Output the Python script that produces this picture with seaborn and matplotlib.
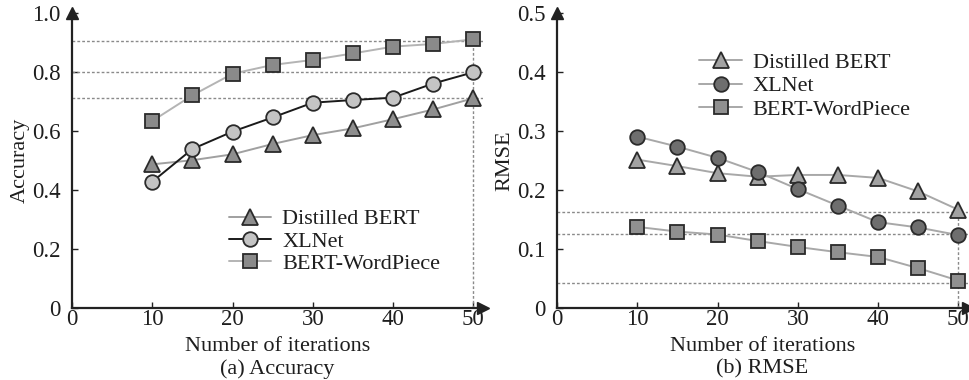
import numpy as np
import pandas as pd
import matplotlib
matplotlib.use("Agg")
import matplotlib.pyplot as plt
import seaborn as sns

iterations = [10, 15, 20, 25, 30, 35, 40, 45, 50]

acc_distilled = [0.486, 0.500, 0.520, 0.555, 0.585, 0.608, 0.639, 0.672, 0.710]
acc_xlnet = [0.427, 0.538, 0.597, 0.645, 0.695, 0.704, 0.712, 0.760, 0.798]
acc_wordpiece = [0.633, 0.720, 0.793, 0.823, 0.840, 0.862, 0.885, 0.894, 0.910]

rmse_distilled = [0.251, 0.240, 0.228, 0.222, 0.225, 0.225, 0.220, 0.197, 0.166]
rmse_xlnet = [0.290, 0.273, 0.254, 0.230, 0.201, 0.173, 0.145, 0.136, 0.123]
rmse_wordpiece = [0.137, 0.129, 0.124, 0.113, 0.103, 0.094, 0.086, 0.067, 0.046]

acc_ref = [0.905, 0.800, 0.712]
rmse_ref = [0.163, 0.125, 0.042]

series_names = ["Distilled BERT", "XLNet", "BERT-WordPiece"]
acc_ticks = [0, 0.2, 0.4, 0.6, 0.8, 1.0]
acc_ticklabels = ["0", "0.2", "0.4", "0.6", "0.8", "1.0"]
rmse_ticks = [0, 0.1, 0.2, 0.3, 0.4, 0.5]
rmse_ticklabels = ["0", "0.1", "0.2", "0.3", "0.4", "0.5"]
x_ticks = [0, 10, 20, 30, 40, 50]

sns.set_theme(style="white")
plt.rcParams["font.family"] = ["Liberation Serif", "DejaVu Serif"]

fig = plt.figure(figsize=(9.7, 3.8), dpi=100)
W, H = 970, 380
ax1 = fig.add_axes([72 / W, 1 - 307.7 / H, 411 / W, 295 / H])
ax2 = fig.add_axes([557 / W, 1 - 307.7 / H, 411 / W, 295 / H])

FS = 16
TFS = 16.5
txtc = "#1e1e1e"


def style_axis(ax, ylim, yticks, yticklabels, ylabel, caption):
    ax.set_xlim(0, 51.2)
    ax.set_ylim(*ylim)
    ax.set_xticks(x_ticks)
    ax.set_xticklabels([str(t) for t in x_ticks])
    ax.set_yticks(yticks)
    ax.set_yticklabels(yticklabels)
    for s in ["top", "right"]:
        ax.spines[s].set_visible(False)
    for s in ["left", "bottom"]:
        ax.spines[s].set_color("#222222")
        ax.spines[s].set_linewidth(1.6)
    ax.tick_params(direction="in", length=4, width=1.0, colors="#222222",
                   labelsize=TFS, labelcolor=txtc, left=True, bottom=True)
    ax.tick_params(axis="x", pad=1)
    ax.tick_params(axis="y", pad=8)
    ax.set_ylabel(ylabel, fontsize=FS, color=txtc, labelpad=2)
    ax.set_xlabel("Number of iterations\n" + caption, fontsize=FS, color=txtc,
                  labelpad=5, linespacing=1.2)
    ax.plot(0, 1, marker="^", color="#222222", markersize=8,
            transform=ax.get_xaxis_transform(), clip_on=False)
    ax.plot(1, 0, marker=">", color="#222222", markersize=8,
            transform=ax.get_yaxis_transform(), clip_on=False)


dash = dict(color="#8a8a8a", linewidth=1.0, linestyle=(0, (2, 1.5)), zorder=1)

# ---------- (a) Accuracy ----------
df_acc = pd.DataFrame({"it": iterations * 3,
                       "val": acc_distilled + acc_xlnet + acc_wordpiece,
                       "model": sum([[n] * len(iterations) for n in series_names], [])})
acc_styles = {
    "Distilled BERT": dict(marker="^", color="#a0a0a0", markerfacecolor="#8e8e8e", ms=11),
    "XLNet": dict(marker="o", color="#1a1a1a", markerfacecolor="#c4c4c4", ms=10.5),
    "BERT-WordPiece": dict(marker="s", color="#b4b4b4", markerfacecolor="#8a8a8a", ms=9.5),
}
for y in acc_ref:
    ax1.axhline(y, **dash)
ax1.plot([50, 50], [0, acc_ref[0]], **dash)
for name in series_names:
    st = acc_styles[name]
    sns.lineplot(data=df_acc[df_acc.model == name], x="it", y="val", ax=ax1,
                 label=name, color=st["color"], marker=st["marker"],
                 markerfacecolor=st["markerfacecolor"], markeredgecolor="#2a2a2a",
                 markeredgewidth=1.3, markersize=st["ms"], linewidth=1.4,
                 clip_on=False, zorder=3)
style_axis(ax1, (0, 1.0), acc_ticks, acc_ticklabels, "Accuracy", "(a) Accuracy")
leg1 = ax1.legend(loc="upper left", bbox_to_anchor=(0.36, 0.365), frameon=False,
                  fontsize=FS, handlelength=1.9, handletextpad=0.5,
                  labelspacing=0.07, borderaxespad=0)
for t in leg1.get_texts():
    t.set_color(txtc)

# ---------- (b) RMSE ----------
df_rmse = pd.DataFrame({"it": iterations * 3,
                        "val": rmse_distilled + rmse_xlnet + rmse_wordpiece,
                        "model": sum([[n] * len(iterations) for n in series_names], [])})
rmse_styles = {
    "Distilled BERT": dict(marker="^", markerfacecolor="#a2a2a2", ms=11),
    "XLNet": dict(marker="o", markerfacecolor="#6e6e6e", ms=10.5),
    "BERT-WordPiece": dict(marker="s", markerfacecolor="#909090", ms=9.5),
}
for y in rmse_ref:
    ax2.axhline(y, **dash)
ax2.plot([50, 50], [0, rmse_ref[0]], **dash)
for name in series_names:
    st = rmse_styles[name]
    sns.lineplot(data=df_rmse[df_rmse.model == name], x="it", y="val", ax=ax2,
                 label=name, color="#a8a8a8", marker=st["marker"],
                 markerfacecolor=st["markerfacecolor"], markeredgecolor="#2a2a2a",
                 markeredgewidth=1.3, markersize=st["ms"], linewidth=1.4,
                 clip_on=False, zorder=3)
style_axis(ax2, (0, 0.5), rmse_ticks, rmse_ticklabels, "RMSE", "(b) RMSE")
leg2 = ax2.legend(loc="upper left", bbox_to_anchor=(0.325, 0.895), frameon=False,
                  fontsize=FS, handlelength=1.9, handletextpad=0.5,
                  labelspacing=0.12, borderaxespad=0)
for t in leg2.get_texts():
    t.set_color(txtc)

fig.savefig("out.png", dpi=100)
